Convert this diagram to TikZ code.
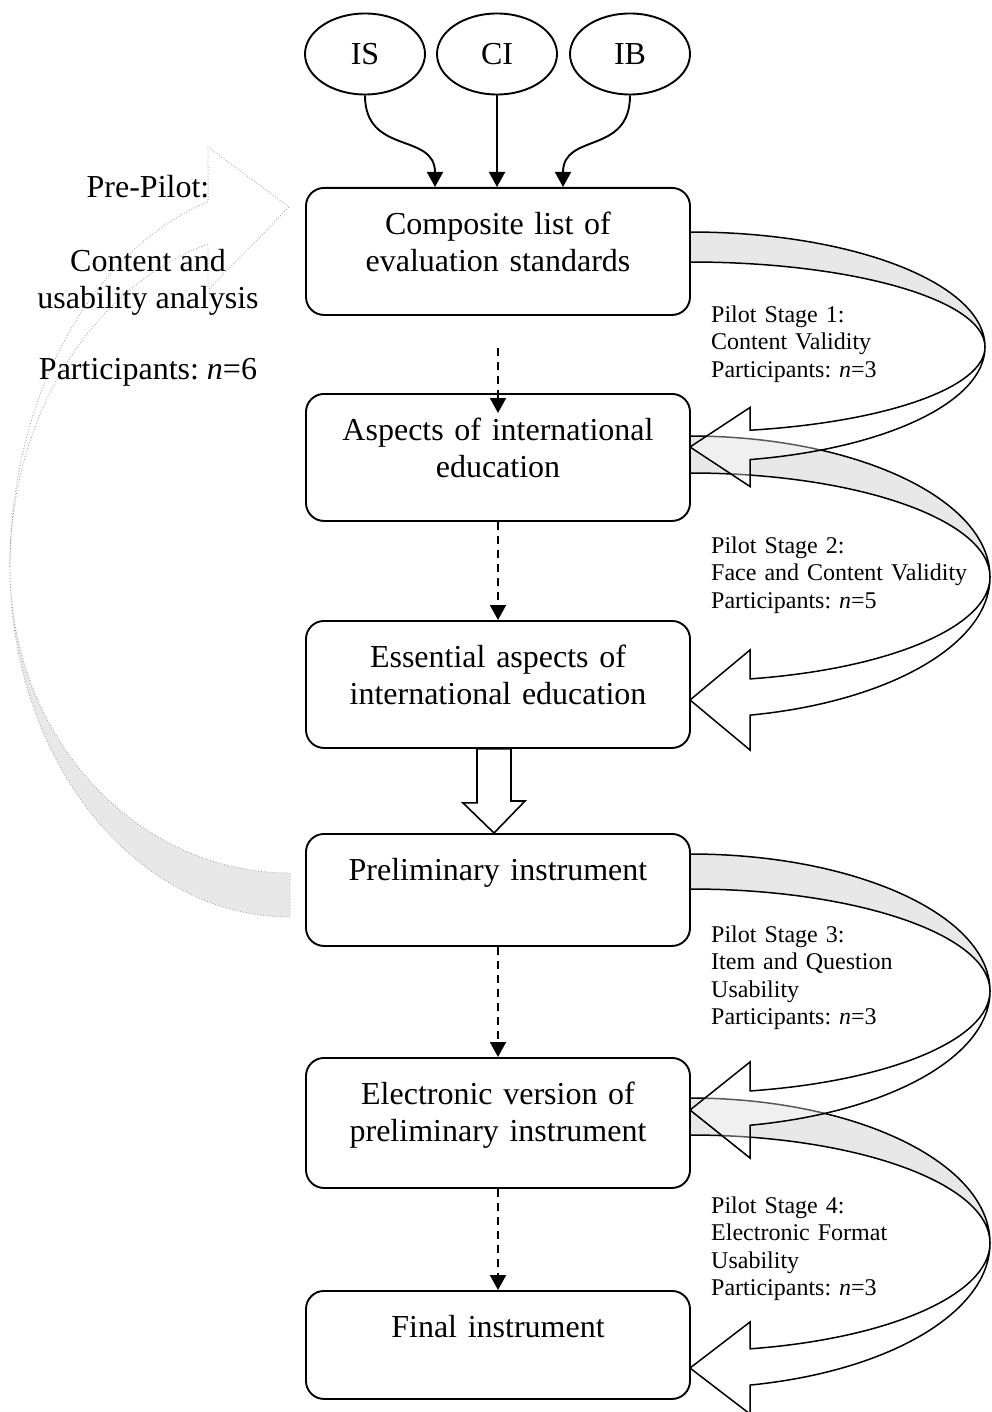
\documentclass[tikz,border=0pt]{standalone}
\usepackage{fontspec}
\setmainfont{Liberation Serif}
\usetikzlibrary{shapes.geometric,arrows.meta,positioning}
\frenchspacing

% back (shaded) half of a curved feedback arrow: cx, cy, rx, ry outer, ry inner
\newcommand{\pilotback}[5]{%
  \draw[back] (#1,#2-#4) arc[start angle=-90,end angle=0,x radius=#3,y radius=#4]
    arc[start angle=0,end angle=-90,x radius=#3,y radius=#5] -- cycle;}
% front half with the head: cx, cy, rx, ry outer, ry inner, head half width, tip y
\newcommand{\pilotfront}[7]{%
  \pgfmathsetmacro\headang{acos(60/#3)}
  \draw[front] (#1+#3,#2) arc[start angle=0,end angle=\headang,x radius=#3,y radius=#4]
    -- (#1+60,#7+#6) -- (#1,#7) -- (#1+60,#7-#6)
    -- ({#1+60},{#2+#5*sin(\headang)})
    arc[start angle=\headang,end angle=0,x radius=#3,y radius=#5] -- cycle;}

\begin{document}
\begin{tikzpicture}[x=1pt, y=-1pt,
    box/.style={rectangle, draw, line width=1.9pt, rounded corners=18pt, anchor=north,
      text width=384pt, align=center, inner xsep=0pt, inner ysep=0pt, text height=47pt,
      font=\fontsize{32}{37}\selectfont},
    source/.style={ellipse, draw, line width=1.9pt, minimum width=120pt, minimum height=81pt,
      inner sep=0pt, font=\fontsize{32}{37}\selectfont},
    stage/.style={anchor=base west, text width=280pt, align=left, inner sep=0pt,
      font=\fontsize{24}{27.6}\selectfont},
    arrow/.style={-{Triangle[width=16pt,length=15pt]}, line width=1.9pt},
    dasharrow/.style={arrow, dash pattern=on 8pt off 6pt},
    hollow/.style={draw, fill=white, line width=1.6pt, line join=miter},
    back/.style={draw, fill=black!9, line width=1.5pt},
    front/.style={draw, fill=white, fill opacity=0.35, line width=1.5pt, line join=miter},
    preback/.style={draw=gray!70, fill=black!9, dotted, line width=0.9pt},
    prefront/.style={draw=gray!70, dotted, line width=0.9pt}
]
    \useasboundingbox (0,0) rectangle (992,1412);

    % Pre-pilot loop (left)
    \draw[preback] (290,917) arc[start angle=90,end angle=180,x radius=280,y radius=350]
      arc[start angle=180,end angle=90,x radius=280,y radius=306] -- cycle;
    \draw[prefront] (10,567) arc[start angle=180,end angle=253,x radius=280,y radius=382]
      -- (208,147) -- (289,207) -- (208,290) -- (208,244)
      arc[start angle=253,end angle=180,x radius=280,y radius=338] -- cycle;
    \node[align=center, inner sep=0pt, font=\fontsize{32}{37}\selectfont] (prepilot) at (148,281)
      {Pre-Pilot:\\[37pt]Content and\\usability analysis\\[34pt]Participants: \textit{n}=6};

    % Pilot stage loops (right)
    \pilotback{690}{347}{295}{115}{85}
    \pilotback{690}{577}{300}{141}{104}
    \pilotback{690}{991}{300}{137}{102}
    \pilotback{690}{1243}{300}{145}{108}
    \pilotfront{690}{347}{295}{115}{85}{39.5}{447}
    \pilotfront{690}{577}{300}{141}{104}{50}{700}
    \pilotfront{690}{991}{300}{137}{102}{48}{1110}
    \pilotfront{690}{1243}{300}{145}{108}{46}{1368}

    % Sources
    \node[source] (is) at (365,54) {IS};
    \node[source] (ci) at (497,54) {CI};
    \node[source] (ib) at (630,54) {IB};

    % Steps
    \node[box, text depth=80pt] (composite) at (498,187) {Composite list of\\evaluation standards};
    \node[box, text depth=80pt] (aspects) at (498,393) {Aspects of international\\education};
    \node[box, text depth=80pt] (essential) at (498,620) {Essential aspects of\\international education};
    \node[box, text depth=65pt] (prelim) at (498,833) {Preliminary instrument};
    \node[box, text depth=83pt] (electronic) at (498,1057) {Electronic version of\\preliminary instrument};
    \node[box, text depth=61pt] (final) at (498,1290) {Final instrument};

    % Stage labels
    \node[stage] (stage1) at (711,322) {Pilot Stage 1:\\Content Validity\\Participants: \textit{n}=3};
    \node[stage] (stage2) at (711,553) {Pilot Stage 2:\\Face and Content Validity\\Participants: \textit{n}=5};
    \node[stage] (stage3) at (711,942) {Pilot Stage 3:\\Item and Question\\Usability\\Participants: \textit{n}=3};
    \node[stage] (stage4) at (711,1213) {Pilot Stage 4:\\Electronic Format\\Usability\\Participants: \textit{n}=3};

    % Arrows
    \draw[arrow] (is.south) .. controls +(0,60) and +(0,-55) .. ([xshift=-63pt]composite.north);
    \draw[arrow] (ci.south) -- (ci.south |- composite.north);
    \draw[arrow] (ib.south) .. controls +(0,60) and +(0,-55) .. ([xshift=65pt]composite.north);
    \draw[dasharrow] ([yshift=-32pt]composite.south) -- ([yshift=-20pt]aspects.north);
    \draw[dasharrow] (aspects.south) -- (essential.north);
    \draw[hollow] ([xshift=-21pt]essential.south) -- ++(0,54) -- ++(-14,0) -- ([xshift=-4pt]prelim.north)
      -- ++(31,-32) -- ++(-14,0) -- ([xshift=13pt]essential.south) -- cycle;
    \draw[dasharrow] (prelim.south) -- (electronic.north);
    \draw[dasharrow] (electronic.south) -- (final.north);
\end{tikzpicture}
\end{document}
